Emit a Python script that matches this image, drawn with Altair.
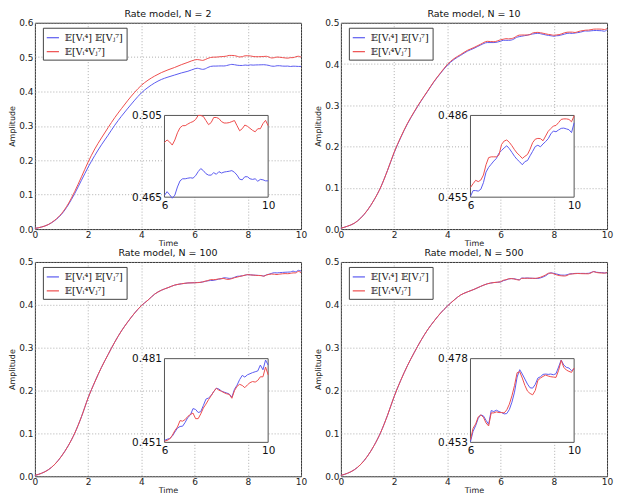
import altair as alt
import pandas as pd

L1 = "𝔼[Vᵢ⁴] 𝔼[Vⱼ⁷]"
L2 = "𝔼[Vᵢ⁴Vⱼ⁷]"
BLUE = "#5b5bf0"
RED = "#ee4d4d"

t_coarse = [0.0, 0.25, 0.5, 0.75, 1.0, 1.25, 1.5, 1.75, 2.0, 2.25, 2.5, 2.75,
            3.0, 3.25, 3.5, 3.75, 4.0, 4.25, 4.5, 4.75, 5.0, 5.25, 5.5, 5.75]
t_fine = [6.0, 6.1, 6.2, 6.3, 6.4, 6.5, 6.6, 6.7, 6.8, 6.9,
          7.0, 7.1, 7.2, 7.3, 7.4, 7.5, 7.6, 7.7, 7.8, 7.9,
          8.0, 8.1, 8.2, 8.3, 8.4, 8.5, 8.6, 8.7, 8.8, 8.9,
          9.0, 9.1, 9.2, 9.3, 9.4, 9.5, 9.6, 9.7, 9.8, 9.9, 10.0]

# ---- N = 2 ----
n2_blue_c = [0.002, 0.006, 0.013, 0.025, 0.043, 0.070, 0.104, 0.142, 0.180, 0.214, 0.245, 0.273,
             0.302, 0.328, 0.352, 0.375, 0.396, 0.412, 0.425, 0.435, 0.442, 0.448, 0.454, 0.459]
n2_red_c = [0.002, 0.006, 0.013, 0.026, 0.045, 0.073, 0.110, 0.152, 0.195, 0.233, 0.265, 0.295,
            0.324, 0.350, 0.375, 0.398, 0.418, 0.433, 0.445, 0.455, 0.463, 0.470, 0.478, 0.485]
n2_blue_f = [0.4659, 0.4677, 0.4662, 0.4645, 0.4660, 0.4700, 0.4730, 0.4740, 0.4740, 0.4743,
             0.4745, 0.4743, 0.4755, 0.4775, 0.4790, 0.4780, 0.4765, 0.4758, 0.4758, 0.4770,
             0.4762, 0.4775, 0.4768, 0.4773, 0.4775, 0.4777, 0.4780, 0.4772, 0.4758, 0.4738,
             0.4735, 0.4750, 0.4750, 0.4740, 0.4737, 0.4740, 0.4728, 0.4737, 0.4735, 0.4730, 0.4730]
n2_red_f = [0.4918, 0.4930, 0.4920, 0.4905, 0.4930, 0.4965, 0.4990, 0.5000, 0.5000, 0.5008,
            0.5015, 0.5020, 0.5030, 0.5050, 0.5050, 0.5045, 0.5025, 0.5005, 0.5015, 0.5040,
            0.5040, 0.5035, 0.5020, 0.5013, 0.5013, 0.5015, 0.5020, 0.5025, 0.5000, 0.4975,
            0.4985, 0.5003, 0.4997, 0.4987, 0.4977, 0.4970, 0.4985, 0.4985, 0.5010, 0.5026, 0.5000]

# ---- N = 10 ----
n10_blue_c = [0.002, 0.007, 0.014, 0.027, 0.046, 0.071, 0.102, 0.142, 0.185, 0.222, 0.255, 0.283,
              0.309, 0.333, 0.357, 0.378, 0.397, 0.411, 0.421, 0.431, 0.438, 0.446, 0.452, 0.452]
n10_red_c = [0.002, 0.007, 0.014, 0.027, 0.046, 0.071, 0.102, 0.142, 0.186, 0.223, 0.256, 0.284,
             0.310, 0.334, 0.358, 0.379, 0.399, 0.413, 0.423, 0.433, 0.440, 0.448, 0.455, 0.454]
n10_blue_f = [0.4553, 0.4575, 0.4575, 0.4573, 0.4580, 0.4605, 0.4645, 0.4663, 0.4675, 0.4687,
              0.4697, 0.4717, 0.4727, 0.4737, 0.4745, 0.4734, 0.4720, 0.4705, 0.4693, 0.4684,
              0.4673, 0.4685, 0.4689, 0.4707, 0.4724, 0.4742, 0.4747, 0.4741, 0.4752, 0.4761,
              0.4772, 0.4790, 0.4801, 0.4798, 0.4805, 0.4811, 0.4812, 0.4809, 0.4806, 0.4795, 0.4832]
n10_red_f = [0.4587, 0.4601, 0.4614, 0.4609, 0.4615, 0.4634, 0.4673, 0.4700, 0.4703, 0.4703,
             0.4703, 0.4710, 0.4750, 0.4763, 0.4767, 0.4758, 0.4745, 0.4730, 0.4717, 0.4708,
             0.4697, 0.4705, 0.4712, 0.4732, 0.4757, 0.4770, 0.4773, 0.4772, 0.4764, 0.4782,
             0.4800, 0.4810, 0.4820, 0.4822, 0.4833, 0.4845, 0.4847, 0.4847, 0.4845, 0.4836, 0.4859]

# ---- N = 100 ----
n100_blue_c = [0.002, 0.007, 0.015, 0.028, 0.047, 0.071, 0.101, 0.139, 0.183, 0.220, 0.254, 0.284,
               0.313, 0.339, 0.361, 0.381, 0.398, 0.411, 0.425, 0.434, 0.440, 0.446, 0.449, 0.451]
n100_red_c = [0.002, 0.007, 0.015, 0.028, 0.047, 0.071, 0.101, 0.139, 0.183, 0.220, 0.254, 0.284,
              0.313, 0.339, 0.361, 0.381, 0.398, 0.411, 0.425, 0.434, 0.440, 0.446, 0.449, 0.451]
n100_blue_f = [0.4517, 0.4521, 0.4524, 0.4532, 0.4547, 0.4561, 0.4567, 0.4568, 0.4582, 0.4599,
               0.4608, 0.4631, 0.4628, 0.4617, 0.4620, 0.4642, 0.4665, 0.4669, 0.4678, 0.4692,
               0.4704, 0.4701, 0.4694, 0.4690, 0.4687, 0.4683, 0.4672, 0.4700, 0.4715, 0.4735,
               0.4750, 0.4744, 0.4752, 0.4756, 0.4760, 0.4763, 0.4766, 0.4787, 0.4770, 0.4805, 0.4787]
n100_red_f = [0.4514, 0.4517, 0.4522, 0.4535, 0.4552, 0.4565, 0.4588, 0.4586, 0.4592, 0.4603,
              0.4610, 0.4615, 0.4595, 0.4595, 0.4612, 0.4633, 0.4647, 0.4663, 0.4677, 0.4692,
              0.4704, 0.4697, 0.4693, 0.4688, 0.4684, 0.4682, 0.4668, 0.4695, 0.4711, 0.4718,
              0.4714, 0.4706, 0.4716, 0.4724, 0.4728, 0.4726, 0.4732, 0.4745, 0.4745, 0.4780, 0.4752]

# ---- N = 500 ----
n500_blue_c = [0.002, 0.007, 0.015, 0.028, 0.047, 0.072, 0.103, 0.142, 0.186, 0.224, 0.258, 0.288,
               0.316, 0.341, 0.362, 0.381, 0.397, 0.411, 0.423, 0.430, 0.436, 0.443, 0.449, 0.452]
n500_red_c = [0.002, 0.007, 0.015, 0.028, 0.047, 0.072, 0.103, 0.142, 0.186, 0.224, 0.258, 0.288,
              0.316, 0.341, 0.362, 0.381, 0.397, 0.411, 0.423, 0.430, 0.436, 0.443, 0.449, 0.452]
n500_blue_f = [0.4532, 0.4563, 0.4580, 0.4602, 0.4612, 0.4609, 0.4596, 0.4584, 0.4625, 0.4622,
               0.4626, 0.4622, 0.4619, 0.4615, 0.4616, 0.4628, 0.4650, 0.4680, 0.4725, 0.4747,
               0.4734, 0.4719, 0.4704, 0.4693, 0.4692, 0.4703, 0.4722, 0.4726, 0.4733, 0.4734,
               0.4733, 0.4734, 0.4732, 0.4735, 0.4755, 0.4776, 0.4761, 0.4754, 0.4752, 0.4744, 0.4749]
n500_red_f = [0.4538, 0.4572, 0.4585, 0.4606, 0.4612, 0.4605, 0.4588, 0.4579, 0.4618, 0.4618,
              0.4621, 0.4619, 0.4619, 0.4618, 0.4627, 0.4644, 0.4669, 0.4700, 0.4738, 0.4741,
              0.4722, 0.4700, 0.4683, 0.4676, 0.4672, 0.4685, 0.4715, 0.4722, 0.4727, 0.4731,
              0.4728, 0.4726, 0.4725, 0.4724, 0.4745, 0.4775, 0.4754, 0.4746, 0.4742, 0.4739, 0.4752]

titles = ["Rate model, N = 2", "Rate model, N = 10", "Rate model, N = 100", "Rate model, N = 500"]
y_max = [0.6, 0.5, 0.5, 0.5]
y_ticks = [[0.0, 0.1, 0.2, 0.3, 0.4, 0.5, 0.6], [0.0, 0.1, 0.2, 0.3, 0.4, 0.5],
           [0.0, 0.1, 0.2, 0.3, 0.4, 0.5], [0.0, 0.1, 0.2, 0.3, 0.4, 0.5]]
x_ticks = [0, 2, 4, 6, 8, 10]
inset_y = [[0.465, 0.505], [0.455, 0.486], [0.451, 0.481], [0.453, 0.478]]
inset_x = [6, 10]

color_scale = alt.Scale(domain=[L1, L2], range=[BLUE, RED])


def panel(i, bc, rc, bf, rf, w, h):
    t_all = t_coarse + t_fine
    df = pd.DataFrame({
        "t": t_all + t_all,
        "v": bc + bf + rc + rf,
        "s": [L1] * len(t_all) + [L2] * len(t_all),
    })
    dfi = pd.DataFrame({
        "t": t_fine + t_fine,
        "v": bf + rf,
        "s": [L1] * len(t_fine) + [L2] * len(t_fine),
    })
    lo, hi = inset_y[i]
    box_df = pd.DataFrame({"t": [inset_x[0]], "t2": [inset_x[1]], "v": [lo], "v2": [hi]})

    main = alt.Chart(df).mark_line(strokeWidth=1, interpolate="monotone").encode(
        x=alt.X("t:Q", scale=alt.Scale(domain=[0, 10], nice=False, zero=False),
                axis=alt.Axis(values=x_ticks, title="Time", labelFlush=False, grid=True,
                              ticks=False, domain=False, labelPadding=1, titlePadding=0)),
        y=alt.Y("v:Q", scale=alt.Scale(domain=[0, y_max[i]], nice=False),
                axis=alt.Axis(values=y_ticks[i], format=".1f", title="Amplitude", grid=True,
                              ticks=False, domain=False, labelPadding=2, titlePadding=2)),
        color=alt.Color("s:N", scale=color_scale, sort=[L1, L2],
                        legend=alt.Legend(title=None, orient="none", legendX=8, legendY=5,
                                          direction="vertical", fillColor="white",
                                          strokeColor="#444", padding=3, rowPadding=2,
                                          symbolType="stroke", symbolSize=150,
                                          symbolStrokeWidth=1.2, labelFont="DejaVu Serif",
                                          labelFontSize=9.5, labelLimit=200, labelOffset=5,
                                          labelColor="#111")),
    )

    ix0 = round(0.487 * w)
    ix1 = round(0.875 * w)
    iy0 = round(0.45 * h)
    iy1 = round(0.844 * h)
    xs = alt.Scale(domain=inset_x, range=[ix0, ix1], nice=False, zero=False)
    ys = alt.Scale(domain=[lo, hi], range=[iy1, iy0], nice=False, zero=False)
    xa = alt.Axis(orient="bottom", offset=-(h - iy1), values=inset_x, format="d", title=None,
                  grid=False, ticks=False, domain=False, labelFlush=False, labelFontSize=10.5,
                  labelPadding=3, labelColor="#111")
    ya = alt.Axis(orient="left", offset=-ix0, values=[lo, hi], format=".3f", title=None,
                  grid=False, ticks=False, domain=False, labelFontSize=10.5, labelPadding=3,
                  labelColor="#111")

    box = alt.Chart(box_df).mark_rect(fill="white", stroke="#555", strokeWidth=1).encode(
        x=alt.X("t:Q", scale=xs, axis=xa), x2="t2:Q",
        y=alt.Y("v:Q", scale=ys, axis=ya), y2="v2:Q",
    )
    ins = alt.Chart(dfi).mark_line(strokeWidth=1).encode(
        x=alt.X("t:Q", scale=xs, axis=xa),
        y=alt.Y("v:Q", scale=ys, axis=ya),
        color=alt.Color("s:N", scale=color_scale, legend=None),
    )
    inset = alt.layer(box, ins)
    return alt.layer(main, inset).resolve_scale(x="independent", y="independent").properties(
        width=w, height=h,
        title=alt.TitleParams(titles[i], fontSize=9.5, fontWeight="normal", font="DejaVu Sans",
                              offset=0, color="#111"))


W1, W2, H1, H2 = 267, 267, 207, 215
p1 = panel(0, n2_blue_c, n2_red_c, n2_blue_f, n2_red_f, W1, H1)
p2 = panel(1, n10_blue_c, n10_red_c, n10_blue_f, n10_red_f, W2, H1)
p3 = panel(2, n100_blue_c, n100_red_c, n100_blue_f, n100_red_f, W1, H2)
p4 = panel(3, n500_blue_c, n500_red_c, n500_blue_f, n500_red_f, W2, H2)

row1 = alt.hconcat(p1, p2, spacing=6).resolve_scale(color="independent")
row2 = alt.hconcat(p3, p4, spacing=6).resolve_scale(color="independent")
chart = alt.vconcat(row1, row2, spacing=0).resolve_scale(color="independent").properties(
    padding=0
).configure_view(stroke="#333", strokeWidth=1).configure_axis(
    labelFont="DejaVu Sans", labelFontSize=9, labelColor="#222",
    titleFont="DejaVu Sans", titleFontSize=8, titleFontWeight="normal", titleColor="#222",
    gridColor="#9a9a9a", gridDash=[1, 2], gridWidth=0.8,
).configure_legend(cornerRadius=0)

chart.save("out.html", embed_options={"renderer": "svg", "actions": False})
